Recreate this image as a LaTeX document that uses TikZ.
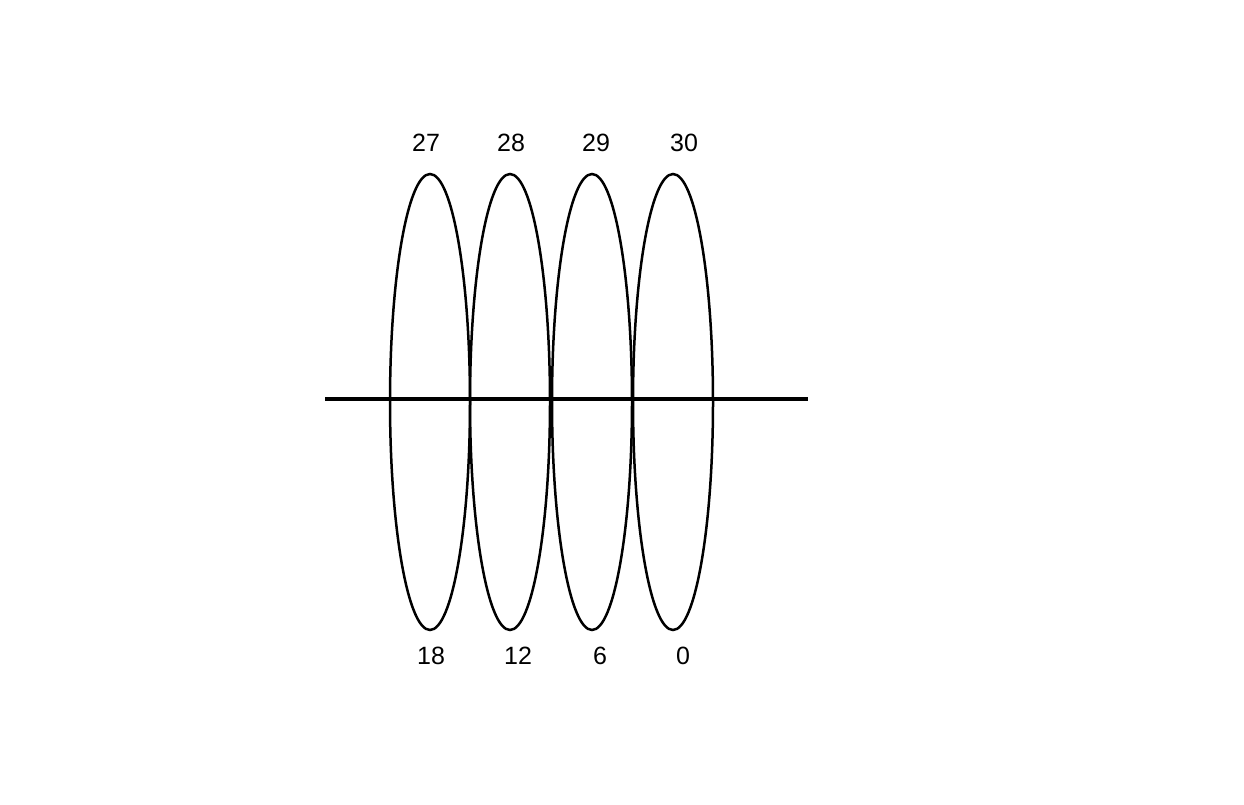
\documentclass[tikz,border=0pt]{standalone}
\usepackage{fontspec}
\setmainfont{Liberation Sans}
\begin{document}
\begin{tikzpicture}[
  x=1pt, y=-1pt,
  loop/.style={draw=black, line width=2.5pt},
  axis/.style={draw=black, line width=4.5pt},
  num/.style={font=\fontsize{25}{29}\selectfont, inner sep=0pt, anchor=base},
]
\useasboundingbox (0,0) rectangle (1244,804);
% ellipses
\foreach \cx in {430,510,592,673}
  \draw[loop] (\cx,402) ellipse [x radius=40, y radius=228];
% axis line
\coordinate (axl) at (325,399);
\coordinate (axr) at (808,399);
\draw[axis] (axl) -- (axr);
% top labels
\node[num] (t27) at (426,151) {27};
\node[num] (t28) at (511,151) {28};
\node[num] (t29) at (596,151) {29};
\node[num] (t30) at (684,151) {30};
% bottom labels
\node[num] (b18) at (431,664) {18};
\node[num] (b12) at (518,664) {12};
\node[num] (b6)  at (600,664) {6};
\node[num] (b0)  at (683,664) {0};
\end{tikzpicture}
\end{document}
